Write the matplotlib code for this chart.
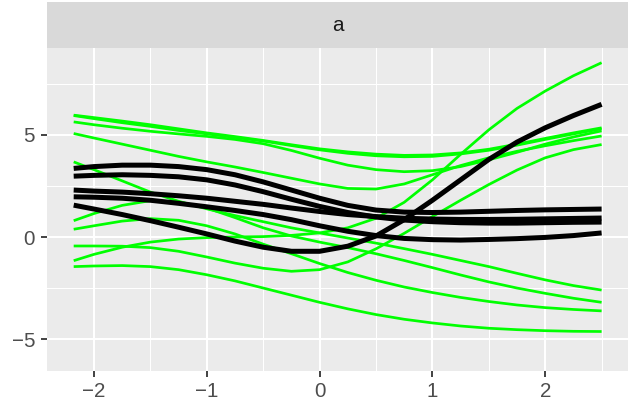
import matplotlib
matplotlib.use("Agg")
import matplotlib.pyplot as plt
from matplotlib.ticker import FixedLocator

plt.rcParams['font.family'] = ['Liberation Sans', 'DejaVu Sans']

# shared x positions of the sampled curves
xs = [-2.18, -2.0, -1.75, -1.5, -1.25, -1.0, -0.75, -0.5, -0.25, 0.0,
      0.25, 0.5, 0.75, 1.0, 1.25, 1.5, 1.75, 2.0, 2.25, 2.5]

# green series
g1 = [5.97, 5.85, 5.68, 5.5, 5.3, 5.1, 4.92, 4.73, 4.52, 4.32, 4.17, 4.06, 4.0, 4.02, 4.12, 4.3, 4.55, 4.83, 5.1, 5.35]
g2 = [5.95, 5.8, 5.6, 5.42, 5.22, 5.05, 4.88, 4.7, 4.48, 4.27, 4.1, 3.98, 3.93, 3.95, 4.07, 4.25, 4.5, 4.78, 5.05, 5.3]
g3 = [5.64, 5.5, 5.33, 5.18, 5.05, 4.93, 4.78, 4.57, 4.24, 3.86, 3.52, 3.3, 3.2, 3.25, 3.45, 3.78, 4.15, 4.55, 4.9, 5.2]
g4 = [5.07, 4.85, 4.55, 4.25, 3.95, 3.68, 3.43, 3.16, 2.88, 2.6, 2.38, 2.35, 2.6, 3.05, 3.5, 3.88, 4.2, 4.47, 4.72, 4.95]
g5 = [3.68, 3.3, 2.75, 2.2, 1.75, 1.38, 1.05, 0.75, 0.45, 0.2, -0.05, -0.3, -0.57, -0.85, -1.15, -1.45, -1.78, -2.1, -2.38, -2.6]
g6 = [0.80, 1.15, 1.55, 1.78, 1.72, 1.42, 0.95, 0.45, 0.05, -0.25, -0.52, -0.82, -1.15, -1.5, -1.86, -2.2, -2.5, -2.76, -3.0, -3.2]
g7 = [0.38, 0.55, 0.78, 0.9, 0.82, 0.55, 0.15, -0.35, -0.82, -1.3, -1.74, -2.12, -2.45, -2.72, -2.96, -3.16, -3.33, -3.46, -3.55, -3.62]
g8 = [-0.44, -0.44, -0.45, -0.52, -0.7, -0.98, -1.28, -1.53, -1.68, -1.6, -1.22, -0.58, 0.18, 1.0, 1.8, 2.57, 3.28, 3.88, 4.28, 4.53]
g9 = [-1.16, -0.85, -0.5, -0.25, -0.1, -0.03, 0.0, 0.02, 0.08, 0.2, 0.45, 0.92, 1.7, 2.8, 4.05, 5.25, 6.3, 7.15, 7.9, 8.54]
g10 = [-1.45, -1.42, -1.4, -1.45, -1.6, -1.85, -2.15, -2.5, -2.85, -3.2, -3.52, -3.8, -4.03, -4.21, -4.36, -4.47, -4.54, -4.59, -4.62, -4.63]

# black series
b1 = [3.36, 3.45, 3.52, 3.52, 3.45, 3.3, 3.05, 2.7, 2.3, 1.9, 1.55, 1.32, 1.22, 1.2, 1.22, 1.26, 1.3, 1.33, 1.35, 1.37]
b2 = [2.98, 3.02, 3.05, 3.02, 2.95, 2.8, 2.55, 2.22, 1.85, 1.5, 1.2, 0.98, 0.83, 0.75, 0.7, 0.68, 0.68, 0.7, 0.72, 0.73]
b3 = [2.3, 2.25, 2.2, 2.12, 2.02, 1.9, 1.75, 1.6, 1.42, 1.25, 1.1, 1.0, 0.92, 0.88, 0.86, 0.86, 0.87, 0.89, 0.91, 0.93]
b4 = [1.97, 1.95, 1.9, 1.8, 1.65, 1.48, 1.3, 1.1, 0.85, 0.55, 0.28, 0.07, -0.07, -0.13, -0.15, -0.12, -0.08, -0.02, 0.07, 0.2]
b5 = [1.56, 1.37, 1.1, 0.8, 0.48, 0.15, -0.2, -0.5, -0.7, -0.7, -0.45, 0.05, 0.85, 1.8, 2.8, 3.8, 4.65, 5.35, 5.95, 6.5]

green_series = [g1, g2, g3, g4, g5, g6, g7, g8, g9, g10]
black_series = [b1, b2, b3, b4, b5]

x_ticks = [-2, -1, 0, 1, 2]
x_tick_labels = ['\u22122', '\u22121', '0', '1', '2']
y_ticks = [-5, 0, 5]
y_tick_labels = ['\u22125', '0', '5']
strip_label = 'a'

W, H = 629, 404
fig = plt.figure(figsize=(W / 100, H / 100), dpi=100)
fig.patch.set_facecolor('white')

left_px, right_px, top_px, bottom_px = 47.3, 628.0, 48.0, 370.7
ax = fig.add_axes([left_px / W, (H - bottom_px) / H,
                   (right_px - left_px) / W, (bottom_px - top_px) / H])
ax.set_facecolor('#EBEBEB')

for ys in green_series:
    ax.plot(xs, ys, color='#00FF00', lw=1.95, solid_capstyle='butt',
            solid_joinstyle='round', zorder=3)
for ys in black_series:
    ax.plot(xs, ys, color='black', lw=3.6, solid_capstyle='butt',
            solid_joinstyle='round', zorder=4)

ax.set_xlim(-2.414, 2.734)
ax.set_ylim(-6.55, 9.26)

ax.xaxis.set_major_locator(FixedLocator(x_ticks))
ax.set_xticklabels(x_tick_labels)
ax.yaxis.set_major_locator(FixedLocator(y_ticks))
ax.set_yticklabels(y_tick_labels)
ax.xaxis.set_minor_locator(FixedLocator([-1.5, -0.5, 0.5, 1.5, 2.5]))
ax.yaxis.set_minor_locator(FixedLocator([-2.5, 2.5, 7.5]))

ax.grid(which='major', color='white', lw=1.45, zorder=1)
ax.grid(which='minor', color='white', lw=0.75, zorder=1)
ax.set_axisbelow(True)
for s in ax.spines.values():
    s.set_visible(False)

ax.tick_params(which='major', length=4.3, width=1.3, color='#333333',
               labelcolor='#4D4D4D', labelsize=14.8)
ax.tick_params(axis='x', which='major', pad=3.5)
ax.tick_params(axis='y', which='major', pad=4.5)
ax.tick_params(which='minor', length=0, width=0)

# facet strip
sax = fig.add_axes([left_px / W, (H - top_px) / H,
                    (right_px - left_px) / W, (top_px - 2.3) / H])
sax.set_facecolor('#D9D9D9')
sax.set_xticks([])
sax.set_yticks([])
for s in sax.spines.values():
    s.set_visible(False)
sax.text(0.5, 0.5, strip_label, ha='center', va='center',
         fontsize=14.8, color='#1A1A1A', transform=sax.transAxes)

fig.savefig('out.png', dpi=100, facecolor='white')
